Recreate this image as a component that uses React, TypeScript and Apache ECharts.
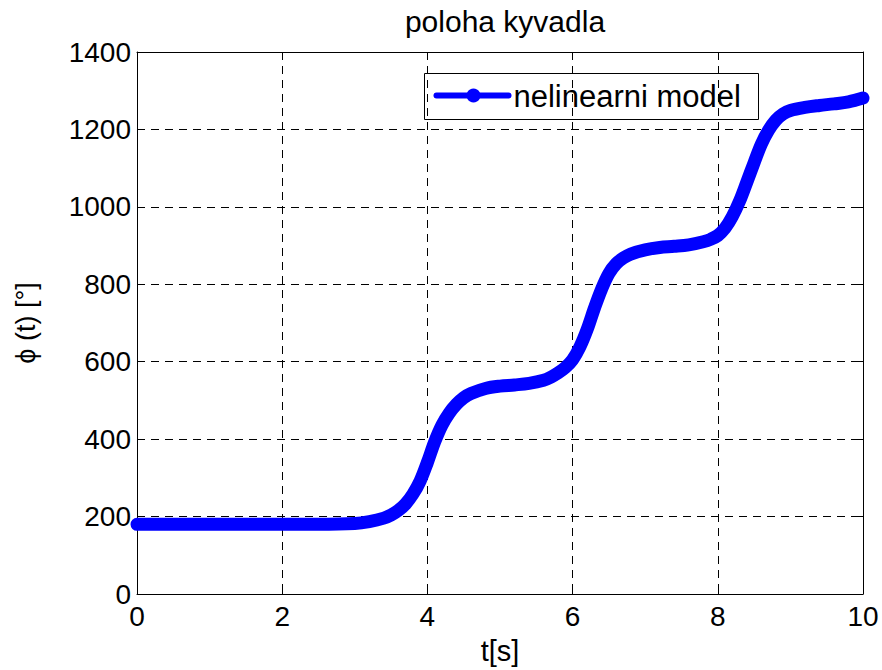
import React, { useEffect, useRef } from "react";
import * as echarts from "echarts";

// Pendulum angle over time (nonlinear model)
const timeS: number[] = [
  0, 0.5, 1, 1.5, 2, 2.5, 3, 3.2, 3.4, 3.5, 3.6, 3.7, 3.8, 3.9, 4.0, 4.1, 4.2, 4.3, 4.4, 4.5, 4.6,
  4.8, 5.0, 5.2, 5.4, 5.6, 5.7, 5.8, 5.9, 6.0, 6.1, 6.2, 6.3, 6.4, 6.5, 6.6, 6.7, 6.8, 7.0, 7.2,
  7.4, 7.6, 7.8, 7.9, 8.0, 8.1, 8.2, 8.3, 8.4, 8.5, 8.6, 8.7, 8.8, 8.9, 9.0, 9.2, 9.4, 9.6, 9.8,
  10.0,
];
const phiDeg: number[] = [
  180, 180, 180, 180, 180, 180, 182, 187, 196, 204, 216, 233, 258, 292, 340, 393, 436, 467, 490,
  507, 518, 531, 537, 540, 544, 552, 560, 571, 585, 605, 638, 683, 738, 788, 828, 853, 868, 878,
  889, 895, 898, 902, 910, 916, 926, 945, 975, 1015, 1064, 1114, 1162, 1198, 1224, 1240, 1249,
  1257, 1262, 1266, 1271, 1281,
];

const titleText = "poloha kyvadla";
const xName = "t[s]";
const yName = "ϕ (t) [°]";
const seriesName = "nelinearni model";

const FONT = "'Liberation Sans', Arial, Helvetica, sans-serif";
const BLUE = "#0000ff";

export default function App() {
  const ref = useRef<HTMLDivElement>(null);

  useEffect(() => {
    if (!ref.current) return;
    const chart = echarts.init(ref.current, null, { renderer: "svg" });

    const gridLeft = 137;
    const gridTop = 52;
    const gridRight = 882 - 863;
    const gridBottom = 670 - 594;

    const boxAxisCommon = {
      axisLine: { show: true, onZero: false, lineStyle: { color: "#000", width: 1 } },
      axisTick: { show: true, inside: true, length: 7, lineStyle: { color: "#000" } },
    };
    const plainNumber = (v: number) => String(v);

    chart.setOption({
      animation: false,
      backgroundColor: "#fff",
      title: {
        text: titleText,
        left: 500,
        top: 1,
        textAlign: "center",
        textStyle: { fontFamily: FONT, fontSize: 30, fontWeight: "normal", color: "#000" },
      },
      grid: { left: gridLeft, right: gridRight, top: gridTop, bottom: gridBottom, containLabel: false },
      xAxis: [
        {
          type: "value",
          min: 0,
          max: 10,
          interval: 2,
          name: xName,
          nameLocation: "middle",
          nameGap: 42,
          nameTextStyle: { fontFamily: FONT, fontSize: 29, color: "#000" },
          ...boxAxisCommon,
          axisLabel: { fontFamily: FONT, fontSize: 28, color: "#000", margin: 8, formatter: plainNumber },
          splitLine: { show: true, lineStyle: { color: "#000", width: 1, type: [8, 6] } },
        },
        {
          type: "value",
          position: "top",
          min: 0,
          max: 10,
          interval: 2,
          ...boxAxisCommon,
          axisLabel: { show: false },
          splitLine: { show: false },
        },
      ],
      yAxis: [
        {
          type: "value",
          min: 0,
          max: 1400,
          interval: 200,
          name: yName,
          nameLocation: "middle",
          nameRotate: 90,
          nameGap: 98,
          nameTextStyle: { fontFamily: FONT, fontSize: 27, color: "#000" },
          ...boxAxisCommon,
          axisLabel: { fontFamily: FONT, fontSize: 28, color: "#000", margin: 6, formatter: plainNumber },
          splitLine: { show: true, lineStyle: { color: "#000", width: 1, type: [8, 6] } },
        },
        {
          type: "value",
          position: "right",
          min: 0,
          max: 1400,
          interval: 200,
          ...boxAxisCommon,
          axisLabel: { show: false },
          splitLine: { show: false },
        },
      ],
      series: [
        {
          name: seriesName,
          type: "line",
          xAxisIndex: 0,
          yAxisIndex: 0,
          data: timeS.map((t, i) => [t, phiDeg[i]]),
          symbol: "none",
          smooth: 0.35,
          clip: false,
          z: 3,
          lineStyle: { color: BLUE, width: 13, cap: "round", join: "round" },
        },
      ],
      graphic: [
        {
          type: "group",
          left: 424,
          top: 73,
          z: 10,
          children: [
            {
              type: "rect",
              shape: { x: 0, y: 0, width: 334, height: 46 },
              style: { fill: "#fff", stroke: "#000", lineWidth: 1 },
            },
            {
              type: "line",
              shape: { x1: 12, y1: 22, x2: 84, y2: 22 },
              style: { stroke: BLUE, lineWidth: 6, lineCap: "round" },
            },
            {
              type: "circle",
              shape: { cx: 49, cy: 22, r: 7 },
              style: { fill: BLUE },
            },
            {
              type: "text",
              x: 89,
              y: 23,
              style: {
                text: seriesName,
                fontFamily: FONT,
                fontSize: 31,
                fill: "#000",
                verticalAlign: "middle",
                align: "left",
              },
            },
          ],
        },
      ],
    });

    return () => chart.dispose();
  }, []);

  return (
    <div
      ref={ref}
      style={{ position: "absolute", left: 0, top: 0, width: 882, height: 670 }}
    />
  );
}
